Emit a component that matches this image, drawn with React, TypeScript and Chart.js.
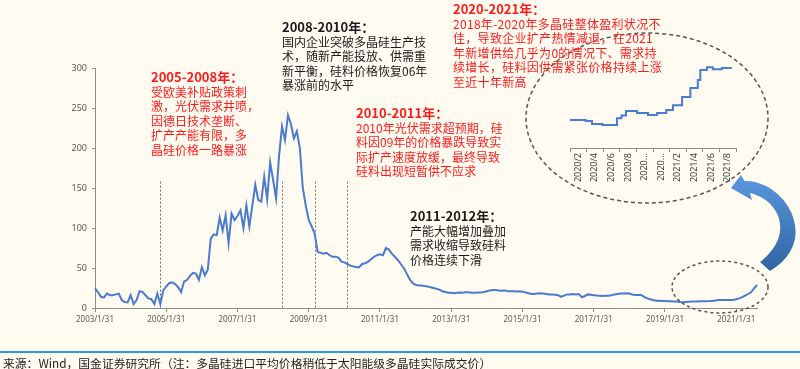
import React, { useEffect, useRef } from 'react';
import { Chart, registerables } from 'chart.js';
Chart.register(...registerables);

// ---- Main series: monthly price, 2003/1 .. 2021/8 ----
const startYear = 2003;
const priceValues = [
  // 2003
  24.6, 20, 14, 13, 18, 16, 16, 17, 18, 10, 7.5, 7,
  // 2004
  16, 5, 10, 21, 20, 16, 12, 11, 5, 18, 5, 22,
  // 2005
  27, 31, 32, 30, 26, 20, 33, 35, 40, 44, 43, 35,
  // 2006
  51, 41, 48, 87, 92, 91, 113, 97, 116, 81, 118, 110,
  // 2007
  115, 122, 100, 128, 102, 128, 154, 135, 133, 164, 136, 182,
  // 2008
  160, 137, 190, 227, 210, 241, 230, 212, 221, 200, 150, 128,
  // 2009
  110, 102, 93, 70, 69, 68, 69, 66, 64, 64, 63, 58,
  // 2010
  57, 55, 53, 52, 51, 51, 55, 56, 58, 61, 64, 66,
  // 2011
  67, 66, 75, 73, 68, 64, 60, 55, 50, 43, 36, 31,
  // 2012
  29, 28, 28, 27.5, 27, 26, 25, 24, 23, 21, 20, 19,
  // 2013
  19, 18.5, 19, 19.5, 19, 20, 19.5, 19, 19, 19.5, 19.5, 20,
  // 2014
  21, 22, 22.5, 22.5, 22, 21.7, 22, 21, 21, 21, 20.5, 21,
  // 2015
  20.4, 19.5, 18.5, 17.5, 17.5, 18, 18.3, 18, 17.5, 17, 17, 16.5,
  // 2016
  16, 14, 15.5, 17, 17, 17.5, 17, 17.5, 13.5, 15, 17, 16.5,
  // 2017
  16, 15.5, 15.4, 15, 15.2, 15.4, 16, 16.8, 17.5, 18, 18, 18.3,
  // 2018
  18, 17, 16.3, 16.3, 16.3, 14, 12, 11, 10, 9.2, 9, 8.8,
  // 2019
  8.8, 8.5, 8.5, 8.2, 8, 7.5, 7.2, 7.5, 7.8, 8, 8.2, 8.2,
  // 2020
  8.4, 8.5, 8.5, 8.6, 8.8, 9.5, 10, 10, 10, 10, 10, 10,
  // 2021
  11, 12, 13.5, 15.4, 17.5, 19.6, 24.6, 28.7,
];
const xTickLabels = [
  '2003/1/31', '2005/1/31', '2007/1/31', '2009/1/31', '2011/1/31',
  '2013/1/31', '2015/1/31', '2017/1/31', '2019/1/31', '2021/1/31',
];
const tickEvery = 24;
const markerIdx = [22, 63, 74, 85];
const markerTop = 158;

// ---- Inset: step line 2020/2 .. 2021/8 (x in months from 2020/2) ----
const insetX = [0, 1.9, 2.65, 3.9, 5.66, 6.2, 6.75, 8.07, 9.4, 10.5, 11.6, 12.4, 13.5, 14.5, 15.4, 15.7, 16.5, 17.2, 18.3, 19.5];
const insetY = [9.9, 9.6, 8.5, 8.2, 10.6, 11.5, 13.1, 12.4, 11.7, 12.4, 13.5, 15.2, 18.1, 21.3, 24.1, 27.7, 28.7, 28.0, 28.4, 28.4];
const insetLabels = ['2020/2', '2020/4', '2020/6', '2020/8', '2020...', '2020...', '2021/2', '2021/4', '2021/6', '2021/8'];

// ---- Annotation texts ----
const note1Title = '2005-2008年：';
const note1Lines = ['受欧美补贴政策刺', '激，光伏需求井喷，', '因德日技术垄断、', '扩产产能有限，多', '晶硅价格一路暴涨'];
const note2Title = '2008-2010年：';
const note2Lines = ['国内企业突破多晶硅生产技', '术，随新产能投放、供需重', '新平衡，硅料价格恢复06年', '暴涨前的水平'];
const note3Title = '2020-2021年：';
const note3Lines = ['2018年-2020年多晶硅整体盈利状况不', '佳，导致企业扩产热情减退，在2021', '年新增供给几乎为0的情况下、需求持', '续增长，硅料因供需紧张价格持续上涨', '至近十年新高'];
const note4Title = '2010-2011年：';
const note4Lines = ['2010年光伏需求超预期，硅', '料因09年的价格暴跌导致实', '际扩产速度放缓，最终导致', '硅料出现短暂供不应求'];
const note5Title = '2011-2012年：';
const note5Lines = ['产能大幅增加叠加', '需求收缩导致硅料', '价格连续下滑'];
const sourceText = '来源：Wind，国金证券研究所（注：多晶硅进口平均价格稍低于太阳能级多晶硅实际成交价）';

const LINE = '#4a7bd0';
const AXIS = '#8c8c8c';
const TICKTXT = '#595959';
const CJK = "'Noto Sans CJK SC', 'Noto Sans', sans-serif";

function Note(props: { left: number; top: number; color: string; title: string; lines: string[]; spacing?: number }) {
  return (
    <div style={{ position: 'absolute', left: props.left, top: props.top, color: props.color, fontFamily: CJK, whiteSpace: 'nowrap' }}>
      <div style={{ fontSize: 13, fontWeight: 700, lineHeight: '17px' }}>{props.title}</div>
      {props.lines.map((l, i) => (
        <div key={i} style={{ fontSize: 12, lineHeight: '14.4px', letterSpacing: props.spacing ?? 0 }}>{l}</div>
      ))}
    </div>
  );
}

export default function App() {
  const mainRef = useRef<HTMLCanvasElement>(null);
  const insetRef = useRef<HTMLCanvasElement>(null);

  useEffect(() => {
    const monthLabels = priceValues.map((_, i) => `${startYear + Math.floor(i / 12)}/${(i % 12) + 1}`);
    const markerPlugin = {
      id: 'markers',
      beforeDatasetsDraw(chart: any) {
        const { ctx, chartArea, scales } = chart;
        const x = scales.x;
        const y = scales.y;
        ctx.save();
        ctx.strokeStyle = '#6e6e6e';
        ctx.lineWidth = 1;
        ctx.setLineDash([2, 2]);
        markerIdx.forEach((i) => {
          const px = Math.round(x.getPixelForValue(i)) + 0.5;
          ctx.beginPath();
          ctx.moveTo(px, y.getPixelForValue(markerTop));
          ctx.lineTo(px, chartArea.bottom);
          ctx.stroke();
        });
        ctx.restore();
      },
    };

    const main = new Chart(mainRef.current as HTMLCanvasElement, {
      type: 'line',
      data: {
        labels: monthLabels,
        datasets: [
          { data: priceValues, borderColor: LINE, borderWidth: 2, pointRadius: 0, tension: 0, fill: false },
        ],
      },
      options: {
        animation: false,
        responsive: false,
        events: [],
        layout: { padding: { left: 0, right: 43, top: 68, bottom: 0 } },
        plugins: { legend: { display: false }, tooltip: { enabled: false } },
        scales: {
          x: {
            type: 'category',
            grid: { display: true, drawOnChartArea: false, drawTicks: true, tickLength: 4, color: AXIS },
            border: { display: true, color: AXIS, width: 1 },
            ticks: {
              autoSkip: false,
              maxRotation: 0,
              minRotation: 0,
              padding: 3,
              color: TICKTXT,
              font: { size: 8, family: "'Noto Sans', sans-serif" },
              callback: (v: any) => xTickLabels[Number(v) / tickEvery] ?? '',
            },
            afterBuildTicks: (s: any) => {
              s.ticks = s.ticks.filter((t: any) => t.value % tickEvery === 0);
            },
            afterFit: (s: any) => {
              s.height = 22;
            },
          },
          y: {
            min: 0,
            max: 300,
            ticks: { stepSize: 50, padding: 5, color: TICKTXT, font: { size: 9, family: "'Noto Sans', sans-serif" } },
            grid: { display: true, drawOnChartArea: false, tickLength: 3, color: AXIS },
            border: { display: true, color: AXIS, width: 1 },
            afterFit: (s: any) => {
              s.width = 95;
            },
          },
        },
      } as any,
      plugins: [markerPlugin],
    });

    const tickPos = Array.from({ length: 21 }, (_, i) => i);
    const inset = new Chart(insetRef.current as HTMLCanvasElement, {
      type: 'line',
      data: {
        datasets: [
          {
            data: insetX.map((x, i) => ({ x, y: insetY[i] })),
            borderColor: LINE,
            borderWidth: 2,
            pointRadius: 0,
            stepped: true,
            fill: false,
          },
        ],
      },
      options: {
        animation: false,
        responsive: false,
        events: [],
        layout: { padding: { left: 10, right: 14, top: 8, bottom: 0 } },
        plugins: { legend: { display: false }, tooltip: { enabled: false } },
        scales: {
          x: {
            type: 'linear',
            min: 0,
            max: 20,
            afterBuildTicks: (s: any) => {
              s.ticks = tickPos.map((v) => ({ value: v }));
            },
            ticks: {
              autoSkip: false,
              maxRotation: 90,
              minRotation: 90,
              padding: 1,
              color: '#404040',
              font: { size: 9, family: "'Noto Sans', sans-serif" },
              callback: (v: any) => (Number(v) % 2 === 1 ? insetLabels[(Number(v) - 1) / 2] : ''),
            },
            grid: {
              drawOnChartArea: false,
              tickLength: 4,
              color: AXIS,
              tickColor: (ctx: any) => (ctx.tick && ctx.tick.value % 2 === 0 ? AXIS : 'rgba(0,0,0,0)'),
            },
            border: { display: true, color: AXIS, width: 1 },
            afterFit: (s: any) => {
              s.height = 40;
            },
          },
          y: { display: false, min: 0, max: 35.5 },
        },
      } as any,
    });

    return () => {
      main.destroy();
      inset.destroy();
    };
  }, []);

  return (
    <div style={{ position: 'fixed', left: 0, top: 0, width: 800, height: 369, background: '#fffbf0', overflow: 'hidden' }}>
      <canvas ref={mainRef} width={800} height={330} style={{ position: 'absolute', left: 0, top: 0, width: 800, height: 330 }} />
      <svg width={800} height={369} style={{ position: 'absolute', left: 0, top: 0 }}>
        <defs>
          <linearGradient id="arrowGrad" x1="0" y1="0" x2="0" y2="1">
            <stop offset="0" stopColor="#5a98de" />
            <stop offset="1" stopColor="#2f64a3" />
          </linearGradient>
        </defs>
        <ellipse cx={647} cy={118} rx={121} ry={85} fill="none" stroke="#555" strokeWidth={1.5} strokeDasharray="4 3" />
        <ellipse cx={720} cy={287} rx={48} ry={26} fill="none" stroke="#555" strokeWidth={1.5} strokeDasharray="3 3" />
        <path
          d="M 731 188 L 741 175 L 744.5 181 C 785 180, 822 240, 770 271 L 760 262 C 795 235, 780 200, 750 193 L 752 200 Z"
          fill="url(#arrowGrad)"
        />
      </svg>
      <canvas ref={insetRef} width={190} height={148} style={{ position: 'absolute', left: 560, top: 40, width: 190, height: 148 }} />
      <Note left={151} top={68} color="#ff1a1a" title={note1Title} lines={note1Lines} />
      <Note left={282} top={18} color="#1a1a1a" title={note2Title} lines={note2Lines} />
      <Note left={453} top={0} color="#ff1a1a" title={note3Title} lines={note3Lines} spacing={0.3} />
      <Note left={356} top={104} color="#ff1a1a" title={note4Title} lines={note4Lines} />
      <Note left={410} top={207} color="#1a1a1a" title={note5Title} lines={note5Lines} />
      <div style={{ position: 'absolute', left: 0, top: 351, width: 800, height: 2, background: '#1f9fe0' }} />
      <div style={{ position: 'absolute', left: 3, top: 355, fontFamily: CJK, fontSize: 11.8, lineHeight: '15px', color: '#222', whiteSpace: 'nowrap' }}>
        {sourceText}
      </div>
    </div>
  );
}
